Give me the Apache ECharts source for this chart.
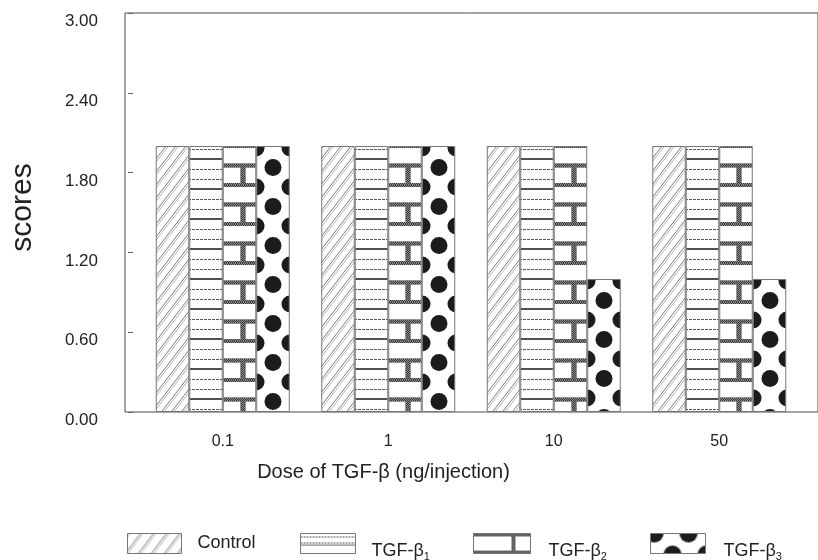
<!DOCTYPE html>
<html><head><meta charset="utf-8">
<script src="https://cdn.jsdelivr.net/npm/echarts@6/dist/echarts.min.js"></script>
<style>html,body{margin:0;padding:0;background:#fff}#c{width:818px;height:560px}</style>
</head><body><div id="c"></div>
<script>
// ---- data ----
const categories = ['0.1', '1', '10', '50'];
const seriesNames = ['Control', 'TGF-β1', 'TGF-β2', 'TGF-β3'];
const controlScores = [2.0, 2.0, 2.0, 2.0];
const tgfb1Scores = [2.0, 2.0, 2.0, 2.0];
const tgfb2Scores = [2.0, 2.0, 2.0, 2.0];
const tgfb3Scores = [2.0, 2.0, 1.0, 1.0];
const yMin = 0, yMax = 3, yStep = 0.6;
const xTitle = 'Dose of TGF-β (ng/injection)';
const yTitle = 'scores';

const seriesData = [controlScores, tgfb1Scores, tgfb2Scores, tgfb3Scores];
const FONT = '"Liberation Sans", Arial, Helvetica, sans-serif';
const INK = '#222';

// ---- pattern tiles ----
function mk(w, h, draw) {
  const c = document.createElement('canvas');
  c.width = w; c.height = h;
  const g = c.getContext('2d');
  g.fillStyle = '#fff'; g.fillRect(0, 0, w, h);
  draw(g, w, h);
  return c;
}
function stipple(g, x, y, w, h) {
  g.fillStyle = '#3a3a3a'; g.fillRect(x, y, w, h);
  g.fillStyle = '#8a8a8a';
  for (let j = Math.floor(y); j < y + h; j++)
    for (let i = Math.floor(x); i < x + w; i++)
      if ((i + j) % 2 === 0) g.fillRect(i, j, 1, 1);
}
function dotted(g, y, w, col) {
  g.fillStyle = col;
  for (let i = 0; i < w; i += 3) g.fillRect(i, y, 2, 1);
}
function diag(w, h, c1, c2) {
  return mk(w, h, (g) => {
    g.lineWidth = 1;
    for (let k = -1; k <= 1; k++) {
      g.strokeStyle = c1; g.beginPath(); g.moveTo(k * w, h); g.lineTo(k * w + w, 0); g.stroke();
      g.strokeStyle = c2; g.beginPath(); g.moveTo(k * w + 2.5, h); g.lineTo(k * w + w + 2.5, 0); g.stroke();
    }
  });
}
function dots(w, h, r, pts) {
  return mk(w, h, (g) => {
    g.fillStyle = '#1c1c1c';
    pts.forEach(p => {
      [-h, 0, h].forEach(dy => [-w, 0, w].forEach(dx => {
        g.beginPath(); g.arc(p[0] + dx, p[1] + dy, r, 0, Math.PI * 2); g.fill();
      }));
    });
  });
}
// bar tiles
const barTiles = [
  diag(10, 13, '#7c7c7c', '#b4b4b4'),
  mk(4, 30, (g, w) => {
    dotted(g, 3, w, '#555');
    g.fillStyle = '#505050'; g.fillRect(0, 12, w, 2);
    dotted(g, 23, w, '#555');
  }),
  mk(40, 39, (g, w, h) => {
    stipple(g, 0, 0, w, 2);
    stipple(g, 0, 37, w, 2);
    stipple(g, 0, 17.5, w, 4);
    stipple(g, 17.5, 19.5, 5, 19.5);
  }),
  dots(34, 39, 8.5, [[17, 21.5], [0, 2]])
];
// legend swatch tiles (drawn in the icon's local frame)
const legendTiles = [
  diag(13, 17, '#7c7c7c', '#b4b4b4'),
  mk(55, 20, (g, w) => {
    dotted(g, 3, w, '#555');
    dotted(g, 9, w, '#555');
    g.fillStyle = '#666'; g.fillRect(0, 11, w, 1);
  }),
  mk(57, 20, (g, w, h) => {
    stipple(g, 0, 0, w, 3);
    stipple(g, 0, 17, w, 3);
    stipple(g, 38, 0, 4, 20);
  }),
  mk(55, 20, (g) => {
    g.fillStyle = '#1c1c1c';
    [[4, 0], [22, 21], [38, 0], [56, 21]].forEach(p => { g.beginPath(); g.arc(p[0], p[1], 9, 0, Math.PI * 2); g.fill(); });
  })
];

const legendPos = [
  { left: 127, w: 54, pad: [0, 0, 0, 11] },
  { left: 300, w: 55, pad: [16, 0, 0, 11] },
  { left: 473, w: 57, pad: [16, 0, 0, 13] },
  { left: 650, w: 55, pad: [16, 0, 0, 13] }
];
const LEG_TOP = 533;

const legends = seriesNames.map((n, i) => ({
  left: legendPos[i].left, top: LEG_TOP, padding: 0,
  itemWidth: legendPos[i].w, itemHeight: 20,
  selectedMode: false,
  formatter: (name) => name === 'Control' ? name : 'TGF-β{s|' + name.slice(-1) + '}',
  textStyle: {
    fontFamily: FONT, fontSize: 18, color: INK, padding: legendPos[i].pad,
    rich: { s: { fontFamily: FONT, fontSize: 11, color: INK, padding: [10, 0, 0, 0] } }
  },
  data: [{
    name: n, icon: 'rect',
    itemStyle: {
      color: { image: legendTiles[i], repeat: 'repeat', x: 0, y: 0 },
      borderColor: '#777', borderWidth: 1
    }
  }]
}));

const option = {
  animation: false,
  backgroundColor: '#fff',
  legend: legends,
  grid: [
    { left: 137, right: 16, top: 13, bottom: 148, containLabel: false },
    { left: 125, right: -5, top: 13, bottom: 148, show: true, borderColor: '#4a4a4a', borderWidth: 1, backgroundColor: 'transparent' }
  ],
  xAxis: [
    {
      type: 'category', gridIndex: 0, data: categories,
      axisLine: { show: false }, axisTick: { show: false },
      axisLabel: { fontFamily: FONT, fontSize: 16, color: INK, margin: 22 },
      name: xTitle, nameLocation: 'middle', nameGap: 50,
      nameTextStyle: { fontFamily: FONT, fontSize: 20, color: INK, padding: [0, 175, 0, 0] }
    },
    { type: 'value', gridIndex: 1, show: false, min: 0, max: 1 }
  ],
  yAxis: [
    {
      type: 'value', gridIndex: 0, min: yMin, max: yMax, interval: yStep, offset: 12,
      axisLine: { show: false },
      axisTick: { show: true, inside: true, length: 5, lineStyle: { color: '#666' } },
      splitLine: { show: false },
      axisLabel: { fontFamily: FONT, fontSize: 17, color: INK, margin: 30, verticalAlign: 'top',
        formatter: (v) => v.toFixed(2) },
      name: yTitle, nameLocation: 'middle', nameGap: 90, nameRotate: 90,
      nameTextStyle: { fontFamily: FONT, fontSize: 30, color: INK, padding: [0, 0, 0, 10] }
    },
    { type: 'value', gridIndex: 1, show: false, min: 0, max: 1 }
  ],
  series: seriesNames.map((n, i) => ({
    name: n, type: 'bar', xAxisIndex: 0, yAxisIndex: 0,
    data: seriesData[i],
    barWidth: 33.5, barGap: '0%',
    itemStyle: { color: '#fff', borderColor: '#777', borderWidth: 1 },
    emphasis: { disabled: true }
  }))
};

const chart = echarts.init(document.getElementById('c'), null, { renderer: 'canvas' });
chart.setOption(option);

// anchor each bar's fill pattern to its own top-left corner (from the library's layout)
const model = chart.getModel();
const upd = seriesData.map((vals, s) => {
  const d = model.getSeriesByIndex(s).getData();
  return {
    data: vals.map((v, i) => {
      const l = d.getItemLayout(i);
      const x = Math.round(Math.min(l.x, l.x + l.width));
      const y = Math.round(Math.min(l.y, l.y + l.height));
      return { value: v, itemStyle: { color: { image: barTiles[s], repeat: 'repeat', x: x, y: y } } };
    })
  };
});
chart.setOption({ series: upd });
</script>
</body></html>
